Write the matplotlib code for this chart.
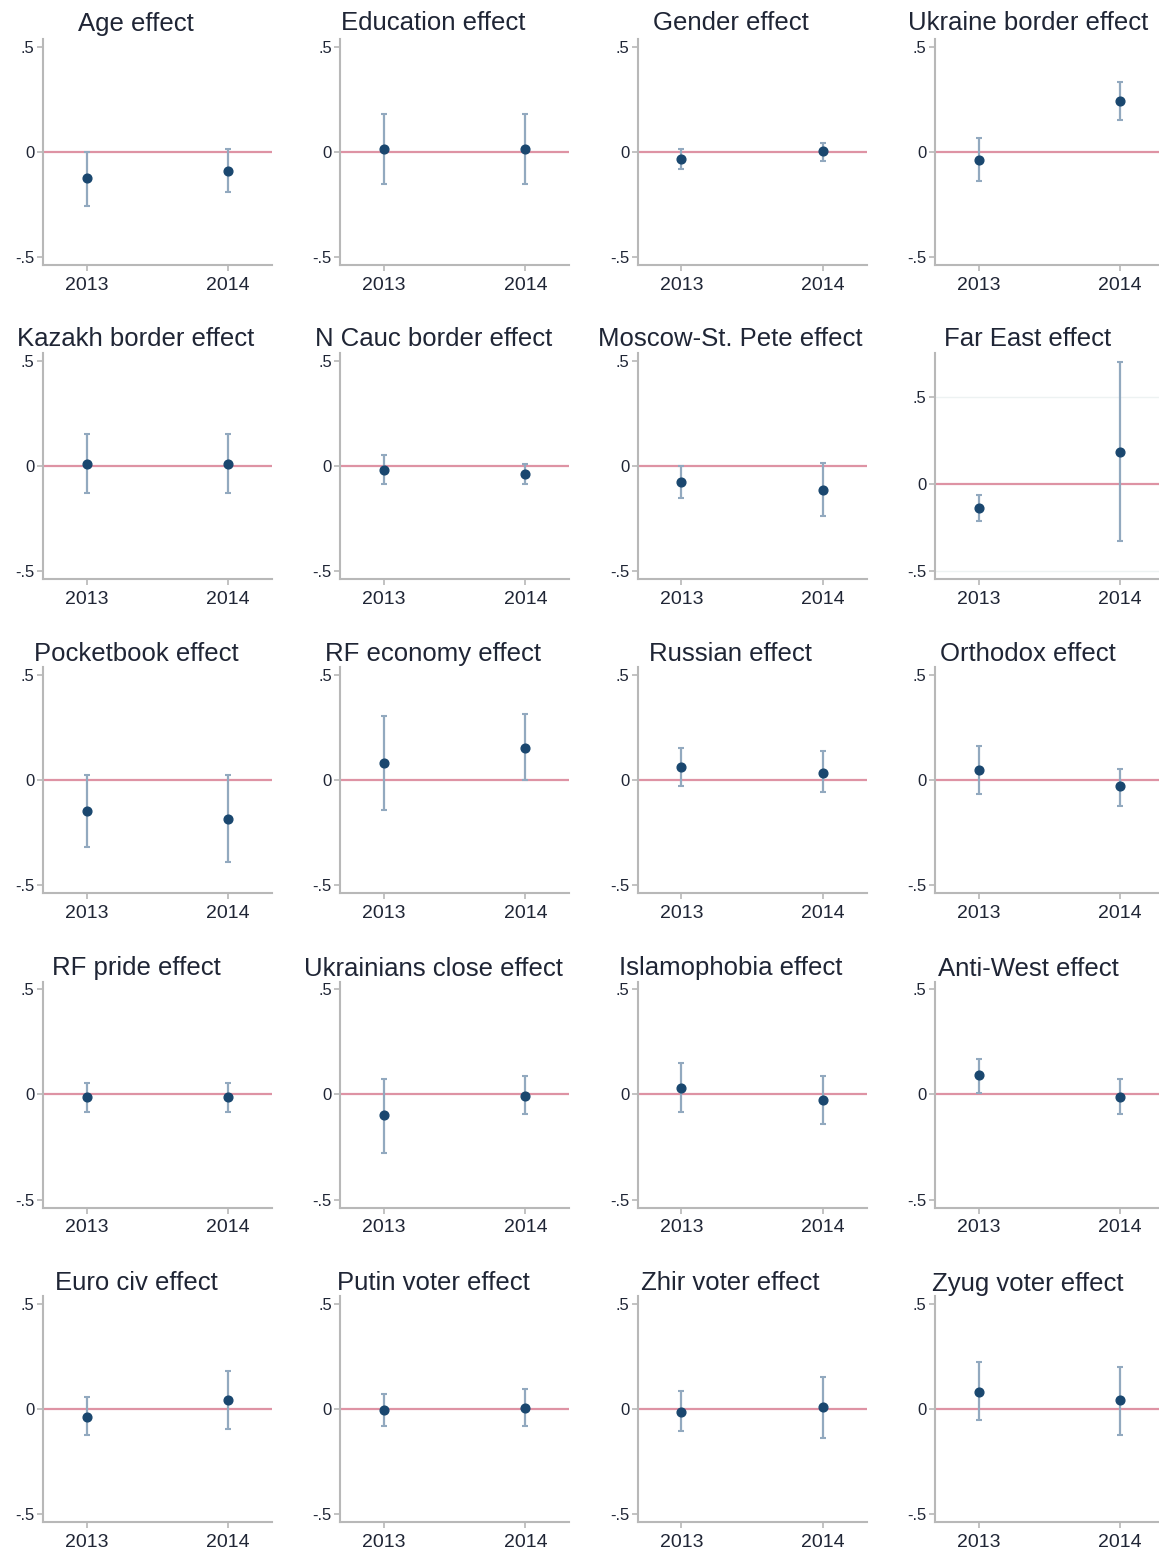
import numpy as np
import matplotlib
matplotlib.use("Agg")
import matplotlib.pyplot as plt

plt.rcParams['font.family'] = ['Liberation Sans', 'DejaVu Sans']

# panel titles, row by row
titles = ["Age effect", "Education effect", "Gender effect", "Ukraine border effect",
          "Kazakh border effect", "N Cauc border effect", "Moscow-St. Pete effect", "Far East effect",
          "Pocketbook effect", "RF economy effect", "Russian effect", "Orthodox effect",
          "RF pride effect", "Ukrainians close effect", "Islamophobia effect", "Anti-West effect",
          "Euro civ effect", "Putin voter effect", "Zhir voter effect", "Zyug voter effect"]

years = [2013, 2014]

# point estimates and confidence bounds (2013)
est_2013 = [-0.124, 0.014, -0.034, -0.037,
            0.011, -0.018, -0.078, -0.143,
            -0.144, 0.081, 0.062, 0.049,
            -0.011, -0.098, 0.033, 0.092,
            -0.038, -0.006, -0.014, 0.079]
lo_2013 = [-0.257, -0.152, -0.081, -0.140,
           -0.129, -0.086, -0.152, -0.217,
           -0.316, -0.141, -0.027, -0.063,
           -0.081, -0.276, -0.081, 0.006,
           -0.124, -0.081, -0.108, -0.056]
hi_2013 = [0.000, 0.180, 0.016, 0.068,
           0.152, 0.052, 0.000, -0.063,
           0.027, 0.306, 0.152, 0.165,
           0.057, 0.076, 0.152, 0.168,
           0.057, 0.071, 0.086, 0.224]

# point estimates and confidence bounds (2014)
est_2014 = [-0.090, 0.014, 0.006, 0.241,
            0.011, -0.037, -0.113, 0.179,
            -0.182, 0.154, 0.037, -0.029,
            -0.011, -0.006, -0.025, -0.011,
            0.043, 0.005, 0.010, 0.040]
lo_2014 = [-0.190, -0.152, -0.043, 0.152,
           -0.126, -0.086, -0.237, -0.331,
           -0.390, 0.000, -0.054, -0.120,
           -0.081, -0.095, -0.138, -0.095,
           -0.095, -0.081, -0.138, -0.124]
hi_2014 = [0.014, 0.180, 0.042, 0.332,
           0.152, 0.011, 0.014, 0.699,
           0.027, 0.313, 0.141, 0.056,
           0.057, 0.086, 0.086, 0.073,
           0.181, 0.095, 0.152, 0.197]

W, H = 1159, 1554
fig = plt.figure(figsize=(W / 100, H / 100), dpi=100)

spine_col = '#b8b8b8'
bar_col = '#92a9bf'
dot_col = '#1a476f'
zero_col = '#de93a4'
text_col = '#1f2535'

for i, title in enumerate(titles):
    r, c = divmod(i, 4)
    left = 43 + 297.3 * c
    top = 39 + 314.2 * r
    ax = fig.add_axes([left / W, 1 - (top + 226) / H, 229 / W, 226 / H])

    ests = [est_2013[i], est_2014[i]]
    los = [lo_2013[i], lo_2014[i]]
    his = [hi_2013[i], hi_2014[i]]
    yerr = [np.array(ests) - np.array(los), np.array(his) - np.array(ests)]

    ax.axhline(0, color=zero_col, lw=1.6, zorder=1)
    ax.errorbar(years, ests, yerr=yerr, fmt='o', color=dot_col, ms=6.3,
                ecolor=bar_col, elinewidth=1.6, capsize=2.5, capthick=1.5, zorder=3)

    ax.set_xlim(2012.69, 2014.31)
    if title == "Far East effect":
        ax.set_ylim(-0.55, 0.75)
        for g in (-0.5, 0.5):
            ax.axhline(g, color='#edf2f2', lw=1, zorder=0)
    else:
        ax.set_ylim(-0.538, 0.537)

    ax.set_xticks(years)
    ax.set_xticklabels(["2013", "2014"])
    ax.set_yticks([-0.5, 0, 0.5])
    ax.set_yticklabels(["-.5", "0", ".5"])

    for s in ("top", "right"):
        ax.spines[s].set_visible(False)
    for s in ("left", "bottom"):
        ax.spines[s].set_color(spine_col)
        ax.spines[s].set_linewidth(1.5)

    ax.tick_params(axis='x', length=4, width=1.2, color=spine_col, pad=4.5,
                   labelsize=14, labelcolor=text_col)
    ax.tick_params(axis='y', length=4, width=1.2, color=spine_col, pad=2,
                   labelsize=12, labelcolor=text_col)

    fig.text((left + 93) / W, 1 - (23.5 + 315 * r) / H, title, ha='center', va='center',
             fontsize=18.5, color=text_col)

fig.savefig("out.png", dpi=100)
